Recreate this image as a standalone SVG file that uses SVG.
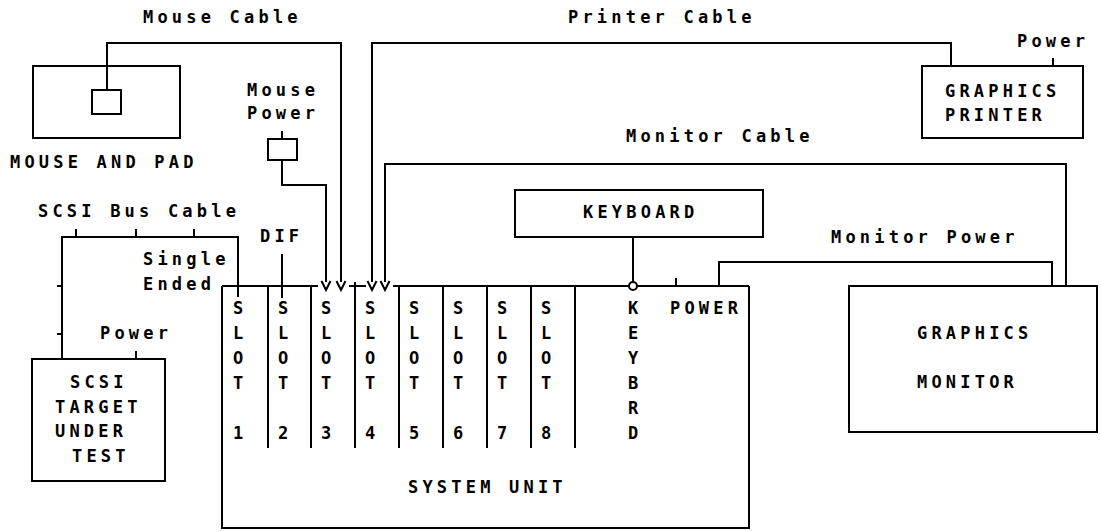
<svg xmlns="http://www.w3.org/2000/svg" width="1101" height="531" viewBox="0 0 1101 531">
<defs>
<style>
.t{font-family:"DejaVu Sans Mono","Liberation Mono",monospace;font-size:17px;font-weight:bold;letter-spacing:4.2px;fill:#000}
.c{font-family:"DejaVu Sans Mono","Liberation Mono",monospace;font-size:17px;font-weight:bold;fill:#000;text-anchor:middle}
.b{fill:none;stroke:#000;stroke-width:2}
.w{fill:#fff;stroke:#000;stroke-width:2}
</style>
</defs>
<rect width="1101" height="531" fill="#fff"/>

<g id="connectors" class="b">
<path d="M107,90 V43 H341 V282"/>
<path d="M282,160 V185 H326 V282"/>
<path d="M282,131 V139"/>
<path d="M372,282 V43 H951 V66"/>
<path d="M385,282 V164 H1066 V286"/>
<path d="M321.5,281 L326,290 L330.5,281 M336.5,281 L341,290 L345.5,281 M367.5,281 L372,290 L376.5,281 M380.5,281 L385,290 L389.5,281"/>
<path d="M1053,58 V66"/>
<path d="M633,237 V282"/>
<path d="M719,286 V262 H1052 V286"/>
<path d="M676,278 V286"/>
<path d="M62,359 V237 H238 V297"/>
<path d="M76,229 V237 M136,229 V237 M194,229 V237 M57,286 H62 M57,334 H62"/>
<path d="M136,351 V359"/>
<path d="M282,254 V298"/>
</g>

<g id="labels">
<text class="t" x="143" y="23">Mouse Cable</text>
<text class="t" x="568" y="23">Printer Cable</text>
<text class="t" x="247" y="96">Mouse</text>
<text class="t" x="247" y="119">Power</text>
<text class="t" x="1017" y="47">Power</text>
<text class="t" x="626" y="142">Monitor Cable</text>
<text class="t" x="831" y="243">Monitor Power</text>
<text class="t" x="38" y="217">SCSI Bus Cable</text>
<text class="t" x="260" y="242">DIF</text>
<text class="t" x="143" y="265">Single</text>
<text class="t" x="143" y="290">Ended</text>
<text class="t" x="100" y="339">Power</text>
</g>

<g id="mouse_pad">
<rect class="b" x="33" y="66" width="147" height="72"/>
<rect class="b" x="92" y="90" width="29" height="24"/>
<text class="t" x="10" y="168">MOUSE AND PAD</text>
</g>

<g id="mouse_power">
<rect class="b" x="268" y="139" width="29" height="21"/>
</g>

<g id="graphics_printer">
<rect class="b" x="922" y="66" width="161" height="72"/>
<text class="t" x="945" y="97">GRAPHICS</text>
<text class="t" x="945" y="121">PRINTER</text>
</g>

<g id="keyboard">
<rect class="b" x="515" y="190" width="248" height="47"/>
<text class="t" x="583" y="218">KEYBOARD</text>
</g>

<g id="graphics_monitor">
<rect class="b" x="849" y="286" width="248" height="146"/>
<text class="t" x="917" y="339">GRAPHICS</text>
<text class="t" x="917" y="388">MONITOR</text>
</g>

<g id="scsi_target">
<rect class="b" x="32" y="359" width="133" height="122"/>
<text class="t" x="70" y="388">SCSI</text>
<text class="t" x="55" y="413">TARGET</text>
<text class="t" x="55" y="437">UNDER</text>
<text class="t" x="72" y="462">TEST</text>
</g>

<g id="system_unit">
<path class="b" d="M222,286 V528 H749 V286 M222,286 H318 M349,286 H366 M393,286 H749"/>
<path class="b" d="M268,286 V448 M311,286 V448 M355,282 V448 M399,286 V448 M443,286 V448 M487,286 V448 M531,286 V448 M575,286 V448"/>
<circle class="w" cx="633" cy="286" r="4"/>
<g class="c">
<text x="238" y="314">S</text><text x="238" y="339">L</text><text x="238" y="364">O</text><text x="238" y="389">T</text><text x="238" y="439">1</text>
<text x="283" y="314">S</text><text x="283" y="339">L</text><text x="283" y="364">O</text><text x="283" y="389">T</text><text x="283" y="439">2</text>
<text x="326" y="314">S</text><text x="326" y="339">L</text><text x="326" y="364">O</text><text x="326" y="389">T</text><text x="326" y="439">3</text>
<text x="370" y="314">S</text><text x="370" y="339">L</text><text x="370" y="364">O</text><text x="370" y="389">T</text><text x="370" y="439">4</text>
<text x="414" y="314">S</text><text x="414" y="339">L</text><text x="414" y="364">O</text><text x="414" y="389">T</text><text x="414" y="439">5</text>
<text x="458" y="314">S</text><text x="458" y="339">L</text><text x="458" y="364">O</text><text x="458" y="389">T</text><text x="458" y="439">6</text>
<text x="502" y="314">S</text><text x="502" y="339">L</text><text x="502" y="364">O</text><text x="502" y="389">T</text><text x="502" y="439">7</text>
<text x="546" y="314">S</text><text x="546" y="339">L</text><text x="546" y="364">O</text><text x="546" y="389">T</text><text x="546" y="439">8</text>
<text x="633" y="314">K</text><text x="633" y="339">E</text><text x="633" y="364">Y</text><text x="633" y="389">B</text><text x="633" y="414">R</text><text x="633" y="439">D</text>
</g>
<text class="t" x="670" y="314">POWER</text>
<text class="t" x="408" y="493">SYSTEM UNIT</text>
</g>
</svg>
